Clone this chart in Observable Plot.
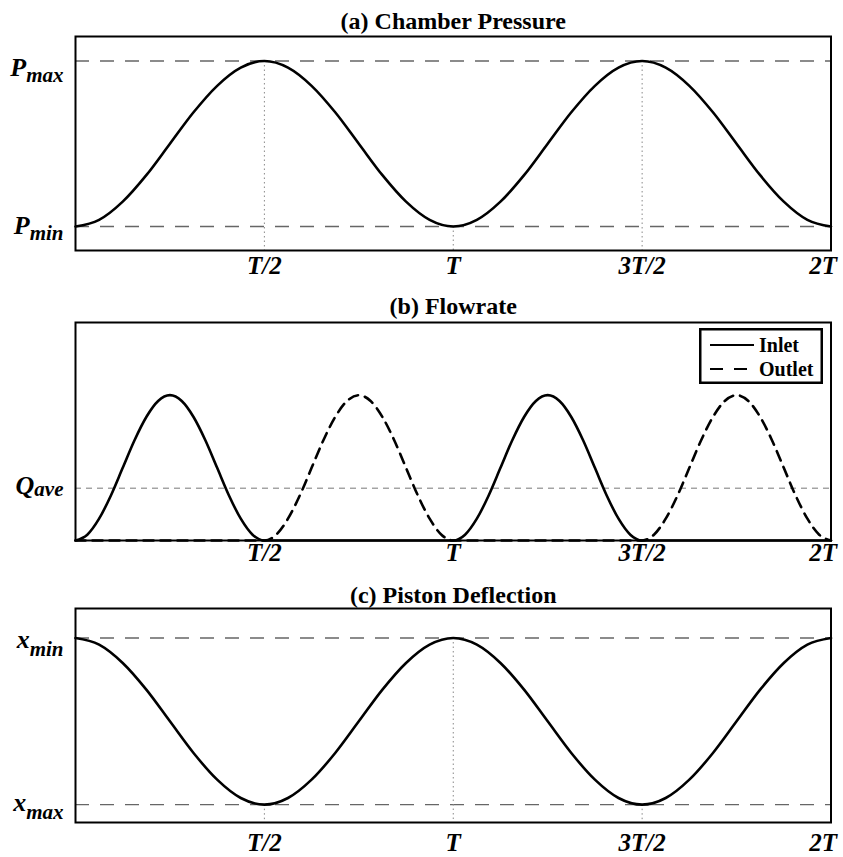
<!DOCTYPE html>
<html><head><meta charset="utf-8">
<script src="https://cdn.jsdelivr.net/npm/d3@7"></script>
<script src="https://cdn.jsdelivr.net/npm/@observablehq/plot@0.6"></script>
<style>
body{margin:0;background:#fff;}
#chart{position:relative;width:843px;height:857px;font-family:"Liberation Serif",serif;background:#fff;}
#chart svg{display:block;}
</style></head><body><div id="chart"></div>
<script>
// ---------- data ----------
const xTickValues = [0.5, 1, 1.5, 2];
const xTickLabels = ["T/2", "T", "3T/2", "2T"];
const panelTitles = ["(a) Chamber Pressure", "(b) Flowrate", "(c) Piston Deflection"];

// time in units of the period T
const tCoarse = [0,0.0625,0.125,0.1875,0.25,0.3125,0.375,0.4375,0.5,0.5625,0.625,0.6875,0.75,0.8125,0.875,0.9375,1,
  1.0625,1.125,1.1875,1.25,1.3125,1.375,1.4375,1.5,1.5625,1.625,1.6875,1.75,1.8125,1.875,1.9375,2];
// chamber pressure, normalised (0 = Pmin, 1 = Pmax)
const pressure = [0,0.04,0.15,0.31,0.5,0.69,0.85,0.96,1,0.96,0.85,0.69,0.5,0.31,0.15,0.04,0,
  0.04,0.15,0.31,0.5,0.69,0.85,0.96,1,0.96,0.85,0.69,0.5,0.31,0.15,0.04,0];
// piston deflection, normalised (1 = xmin, 0 = xmax)
const deflection = [1,0.96,0.85,0.69,0.5,0.31,0.15,0.04,0,0.04,0.15,0.31,0.5,0.69,0.85,0.96,1,
  0.96,0.85,0.69,0.5,0.31,0.15,0.04,0,0.04,0.15,0.31,0.5,0.69,0.85,0.96,1];

const tFine = [0,0.03125,0.0625,0.09375,0.125,0.15625,0.1875,0.21875,0.25,0.28125,0.3125,0.34375,0.375,0.40625,0.4375,0.46875,0.5,
  0.53125,0.5625,0.59375,0.625,0.65625,0.6875,0.71875,0.75,0.78125,0.8125,0.84375,0.875,0.90625,0.9375,0.96875,1,
  1.03125,1.0625,1.09375,1.125,1.15625,1.1875,1.21875,1.25,1.28125,1.3125,1.34375,1.375,1.40625,1.4375,1.46875,1.5,
  1.53125,1.5625,1.59375,1.625,1.65625,1.6875,1.71875,1.75,1.78125,1.8125,1.84375,1.875,1.90625,1.9375,1.96875,2];
// flow rate, normalised to the peak flow
const inletFlow = [0,0.04,0.15,0.31,0.5,0.69,0.85,0.96,1,0.96,0.85,0.69,0.5,0.31,0.15,0.04,0,
  0,0,0,0,0,0,0,0,0,0,0,0,0,0,0,0,
  0.04,0.15,0.31,0.5,0.69,0.85,0.96,1,0.96,0.85,0.69,0.5,0.31,0.15,0.04,0,
  0,0,0,0,0,0,0,0,0,0,0,0,0,0,0,0];
const outletFlow = [0,0,0,0,0,0,0,0,0,0,0,0,0,0,0,0,0,
  0.04,0.15,0.31,0.5,0.69,0.85,0.96,1,0.96,0.85,0.69,0.5,0.31,0.15,0.04,0,
  0,0,0,0,0,0,0,0,0,0,0,0,0,0,0,0,
  0.04,0.15,0.31,0.5,0.69,0.85,0.96,1,0.96,0.85,0.69,0.5,0.31,0.15,0.04,0];
const seriesNames = ["Inlet", "Outlet"];

const pressureLevels = [1, 0];
const pressureLabels = ["P|max", "P|min"];
const flowLevels = [0.36];
const flowLabels = ["Q|ave"];
const deflectionLevels = [1, 0];
const deflectionLabels = ["x|min", "x|max"];
const guideTimes = [0.5, 1, 1.5];

// ---------- helpers ----------
const W = 843, ML = 75, MR = 12.5;
const serif = "Liberation Serif";
const tickFont = {fontSize: 25, fontWeight: "bold", fontStyle: "italic", fontFamily: serif};
const fmtX = d => xTickLabels[xTickValues.indexOf(d)];

function xAxes(pad) {
  return [
    Plot.axisX(xTickValues.slice(0, 3), {tickSize: 0, tickPadding: pad, tickFormat: fmtX, label: null, ...tickFont}),
    Plot.axisX(xTickValues.slice(3), {tickSize: 0, tickPadding: pad, tickFormat: fmtX, label: null, textAnchor: "end", dx: 6, ...tickFont})
  ];
}
function yAxis(level, label, dy) {
  return Plot.axisY([level], {tickSize: 0, tickPadding: 12, tickFormat: () => label, label: null, dy, ...tickFont});
}
function titleMark(i, dy) {
  return Plot.text([panelTitles[i]], {text: d => d, frameAnchor: "top", lineAnchor: "middle", dy, fontSize: 24, fontWeight: "bold", fontFamily: serif, fill: "black"});
}
const subShift = {P: 6, Q: 2, x: 8};
function subscripts(svg) {
  const ns = "http://www.w3.org/2000/svg";
  svg.querySelectorAll("text").forEach(t => {
    const s = t.textContent;
    if (!s.includes("|")) return;
    const [main, sub] = s.split("|");
    t.textContent = "";
    const a = document.createElementNS(ns, "tspan");
    a.textContent = main; a.setAttribute("font-size", "26");
    const b = document.createElementNS(ns, "tspan");
    b.textContent = sub; b.setAttribute("font-size", "21"); b.setAttribute("dy", subShift[main]);
    t.append(a, b);
  });
  return svg;
}
const baseStyle = {fontFamily: serif, background: "white", color: "black", overflow: "visible"};
const refDash = {stroke: "#666", strokeWidth: 1.3, strokeDasharray: "14,11"};
const guideDot = {stroke: "#888", strokeWidth: 1, strokeDasharray: "1.5,3"};

// ---------- panel (a) ----------
const dataA = tCoarse.map((t, i) => ({t, v: pressure[i]}));
const yA = [-0.145, 1.148];
const guidesA = guideTimes.map(t => ({t, v: pressure[tCoarse.indexOf(t)]}));
const plotA = Plot.plot({
  width: W, height: 280, marginLeft: ML, marginRight: MR, marginTop: 36, marginBottom: 30,
  x: {domain: [0, 2], label: null}, y: {domain: yA, label: null},
  style: baseStyle,
  marks: [
    Plot.ruleY(pressureLevels, refDash),
    Plot.ruleX(guidesA, {x: "t", y1: "v", y2: yA[0], ...guideDot}),
    Plot.line(dataA, {x: "t", y: "v", curve: "monotone-x", stroke: "black", strokeWidth: 2.6}),
    Plot.frame({stroke: "black", strokeWidth: 2}),
    ...xAxes(6),
    yAxis(pressureLevels[0], pressureLabels[0], 7),
    yAxis(pressureLevels[1], pressureLabels[1], -1),
    titleMark(0, -15)
  ]
});

// ---------- panel (b) ----------
const dataB = tFine.flatMap((t, i) => [
  {t, v: inletFlow[i], s: seriesNames[0]},
  {t, v: outletFlow[i], s: seriesNames[1]}
]);
const plotB = Plot.plot({
  width: W, height: 298, marginLeft: ML, marginRight: MR, marginTop: 42, marginBottom: 38,
  x: {domain: [0, 2], label: null}, y: {domain: [0, 1.5], label: null},
  style: baseStyle,
  marks: [
    Plot.ruleY(flowLevels, {stroke: "#777", strokeWidth: 1, strokeDasharray: "6,5"}),
    Plot.line(dataB.filter(d => d.s === seriesNames[1]), {x: "t", y: "v", curve: "monotone-x", stroke: "black", strokeWidth: 2.6, strokeDasharray: "10,7"}),
    Plot.line(dataB.filter(d => d.s === seriesNames[0]), {x: "t", y: "v", curve: "monotone-x", stroke: "black", strokeWidth: 2.6}),
    Plot.frame({stroke: "black", strokeWidth: 2}),
    ...xAxes(3),
    yAxis(flowLevels[0], flowLabels[0], -2),
    titleMark(1, -16)
  ]
});

// ---------- panel (c) ----------
const dataC = tCoarse.map((t, i) => ({t, v: deflection[i]}));
const yC = [-0.107, 1.177];
const guidesC = guideTimes.map(t => ({t, v: deflection[tCoarse.indexOf(t)]}));
const plotC = Plot.plot({
  width: W, height: 279, marginLeft: ML, marginRight: MR, marginTop: 30, marginBottom: 35,
  x: {domain: [0, 2], label: null}, y: {domain: yC, label: null},
  style: baseStyle,
  marks: [
    Plot.ruleY(deflectionLevels, refDash),
    Plot.ruleX(guidesC, {x: "t", y1: "v", y2: yC[0], ...guideDot}),
    Plot.line(dataC, {x: "t", y: "v", curve: "monotone-x", stroke: "black", strokeWidth: 2.6}),
    Plot.frame({stroke: "black", strokeWidth: 2}),
    ...xAxes(11),
    yAxis(deflectionLevels[0], deflectionLabels[0], 2),
    yAxis(deflectionLevels[1], deflectionLabels[1], -2),
    titleMark(2, -13)
  ]
});

const chart = document.getElementById("chart");
[plotA, plotB, plotC].forEach(p => chart.appendChild(subscripts(p)));

// ---------- legend for panel (b) ----------
const legendDash = {Inlet: null, Outlet: "13,11"};
const legend = d3.select(chart).append("svg")
  .attr("width", 124).attr("height", 56)
  .style("position", "absolute").style("left", "699px").style("top", "328px");
legend.append("rect").attr("x", 1.25).attr("y", 1.25).attr("width", 121.5).attr("height", 53.5)
  .attr("fill", "white").attr("stroke", "black").attr("stroke-width", 2.5);
const rows = legend.selectAll("g.row").data(seriesNames).join("g")
  .attr("transform", (d, i) => `translate(0,${17 + i * 24})`);
rows.append("line").attr("x1", 11).attr("x2", 55).attr("y1", 0).attr("y2", 0)
  .attr("stroke", "black").attr("stroke-width", 2)
  .attr("stroke-dasharray", d => legendDash[d]);
rows.append("text").attr("x", 60).attr("y", 7).text(d => d)
  .attr("font-family", serif).attr("font-weight", "bold").attr("font-size", 20);
</script></body></html>
